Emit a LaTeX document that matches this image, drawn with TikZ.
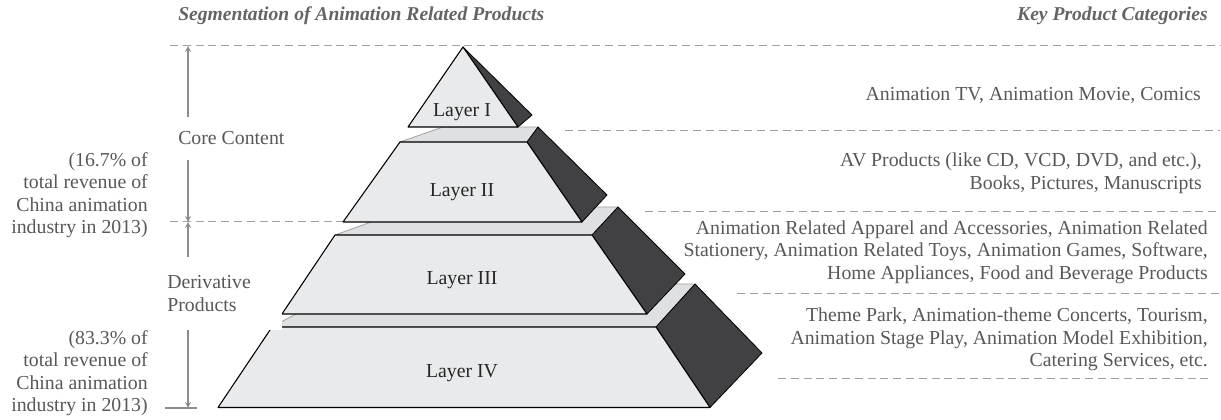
\documentclass[tikz,border=0pt]{standalone}
\usepackage{fontspec}
\setmainfont{Liberation Serif}
\usepackage{xcolor}
\usepackage{tikz}
\usetikzlibrary{arrows}
\definecolor{txtgray}{RGB}{88,88,88}
\definecolor{headgray}{RGB}{100,100,100}
\definecolor{guidegray}{RGB}{160,160,160}
\definecolor{dimgray}{RGB}{140,140,140}
\definecolor{frontgray}{RGB}{233,234,235}
\definecolor{topgray}{RGB}{222,224,226}
\definecolor{sidegray}{RGB}{65,65,67}

\begin{document}
\begin{tikzpicture}[
            x=0.75pt, y=-0.75pt,
            font=\fontsize{14.85}{16.9}\selectfont,
            every node/.style={inner sep=0pt},
            heading/.style={text=headgray, font=\fontsize{14.7}{16.9}\selectfont\bfseries\itshape},
            category/.style={anchor=east, align=right, text=txtgray},
            share/.style={anchor=east, align=right, text=txtgray},
            guide/.style={guidegray, dash pattern=on 6pt off 3.6pt, line width=0.75pt},
            dim/.style={dimgray, line width=1pt, <->, >=stealth},
            layertop/.style={fill=topgray, draw=guidegray, line width=0.6pt, line join=round},
            layerside/.style={fill=sidegray, draw=black, line width=0.6pt, line join=round},
            layerfront/.style={fill=frontgray, draw=black, line width=0.8pt, line join=round},
            layerlabel/.style={text=black!85}
        ]
            \useasboundingbox (0,0) rectangle (1221,420);

            \node[heading, anchor=west] (segtitle) at (178,16) {Segmentation of Animation Related Products};
            \node[heading, anchor=east] (keytitle) at (1208,16) {Key Product Categories};

            \draw[guide] (170,46) -- (1220,46);
            \draw[guide] (565,130.5) -- (1220,130.5);
            \draw[guide] (170,222) -- (343,222);
            \draw[guide] (645,212) -- (1220,212);
            \draw[guide] (737,294) -- (1220,294);
            \draw[guide] (778,378) -- (1208,378);

            \draw[layertop] (272,327) -- (351,284) -- (695,284) -- (656,327) -- cycle;
            \draw[layerside] (656,327) -- (695,284) -- (762,353) -- (710,407.5) -- cycle;
            \draw[layerfront] (272,327) -- (656,327) -- (710,407.5) -- (218,407.5) -- cycle;

            \draw[layertop] (335,235) -- (413,207) -- (618,207) -- (592,235) -- cycle;
            \draw[layerside] (592,235) -- (618,207) -- (685,274) -- (647,314) -- cycle;
            \draw[layerfront] (335,235) -- (592,235) -- (647,314) -- (282,314) -- cycle;

            \draw[layertop] (400,142) -- (443,127) -- (538,127) -- (527,142) -- cycle;
            \draw[layerside] (527,142) -- (538,127) -- (607,195) -- (582,222) -- cycle;
            \draw[layerfront] (400,142) -- (527,142) -- (582,222) -- (343,222) -- cycle;

            \draw[layerside] (463,47) -- (532,115) -- (518,127) -- cycle;
            \draw[layerfront] (463,47) -- (518,127) -- (408,127) -- cycle;

            \node[layerlabel] (layer1) at (462,112) {Layer I};
            \node[layerlabel] (layer2) at (462,192) {Layer II};
            \node[layerlabel] (layer3) at (462,280) {Layer III};
            \node[layerlabel] (layer4) at (462,373) {Layer IV};

            \coordinate (coretop) at (188,46);
            \coordinate (split) at (188,222);
            \coordinate (derivbot) at (188,408);
            \coordinate (tickleft) at (165,408);
            \coordinate (tickright) at (197,408);
            \draw[dim] (coretop) -- (split);
            \draw[dim] (split) -- (derivbot);
            \draw[dimgray, line width=1pt] (tickleft) -- (tickright);

            \node[fill=white, anchor=west, inner xsep=1.5pt, minimum height=32.25pt, text=txtgray] (core) at (176,138.5) {Core Content};
            \node[fill=white, anchor=north west, text width=84.75pt, align=left, inner xsep=1.5pt, minimum height=54.75pt, text=txtgray] (deriv) at (165,257) {Derivative\\Products};

            \node[share] (coreshare) at (148,195) {(16.7\% of\\total revenue of\\China animation\\industry in 2013)};
            \node[share] (derivshare) at (148,373) {(83.3\% of\\total revenue of\\China animation\\industry in 2013)};

            \node[category] (cat1) at (1201,95) {Animation TV, Animation Movie, Comics};
            \node[category] (cat2) at (1202,173) {AV Products (like CD, VCD, DVD, and etc.),\\Books, Pictures, Manuscripts};
            \node[category] (cat3) at (1208,252) {Animation Related Apparel and Accessories, Animation Related\\Stationery, Animation Related Toys, Animation Games, Software,\\Home Appliances, Food and Beverage Products};
            \node[category] (cat4) at (1208,339.5) {Theme Park, Animation-theme Concerts, Tourism,\\Animation Stage Play, Animation Model Exhibition,\\Catering Services, etc.};
        \end{tikzpicture}
\end{document}
